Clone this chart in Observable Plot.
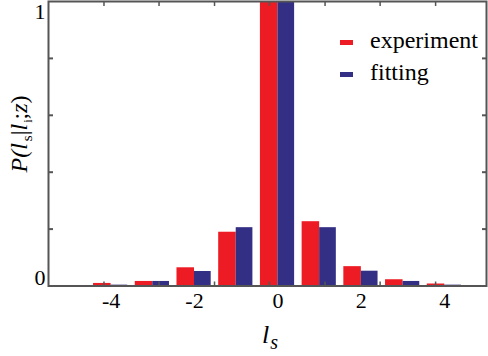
<!DOCTYPE html>
<html>
<head>
<meta charset="utf-8">
<script src="https://cdn.jsdelivr.net/npm/d3@7"></script>
<script src="https://cdn.jsdelivr.net/npm/@observablehq/plot@0.6"></script>
<style>
  html, body { margin: 0; padding: 0; background: #fff; }
  svg { display: block; }
  svg text { font-family: "Liberation Serif", "Times New Roman", Times, serif !important; }
</style>
</head>
<body>
<div id="chart"></div>
<script>
// Data
const ls = [-4, -3, -2, -1, 0, 1, 2, 3, 4];
const experiment = [0.009, 0.016, 0.064, 0.189, 1.0, 0.226, 0.068, 0.022, 0.007];
const fitting = [0.003, 0.016, 0.051, 0.205, 1.0, 0.205, 0.052, 0.016, 0.003];
const xTickLabels = [-4, -2, 0, 2, 4];
const yTickLabels = [0, 1];
const yMinorTicks = [0.2, 0.4, 0.6, 0.8];
const xMinorTicks = [-4.17, -2.85, -1.52, -0.2, 1.13, 2.45, 3.78];
const seriesNames = ["experiment", "fitting"];
const seriesColors = ["#ed1c24", "#322f84"];

const data = ls.map((l, i) => ({l, experiment: experiment[i], fitting: fitting[i]}));

const serif = '"Liberation Serif", "Times New Roman", Times, serif';
const axisColor = "#555";

const chart = Plot.plot({
  width: 488,
  height: 356,
  marginLeft: 48,
  marginRight: 2,
  marginTop: 1,
  marginBottom: 70.5,
  style: {fontFamily: serif, background: "#fff", color: "#000"},
  x: {domain: [-5.5, 5], label: null},
  y: {domain: [0, 1], label: null},
  marks: [
    Plot.rectY(data, {x1: d => d.l - 0.42, x2: d => d.l, y: "experiment", fill: seriesColors[0]}),
    Plot.rectY(data, {x1: d => d.l, x2: d => d.l + 0.4, y: "fitting", fill: seriesColors[1]}),
    // minor ticks (inward)
    Plot.axisY({ticks: yMinorTicks, anchor: "left", tickSize: 5, dx: 5, tickFormat: () => "", stroke: axisColor, strokeWidth: 2, label: null}),
    Plot.axisY({ticks: yMinorTicks, anchor: "right", tickSize: 5, dx: -5, tickFormat: () => "", stroke: axisColor, strokeWidth: 2, label: null}),
    Plot.axisX({ticks: xMinorTicks, anchor: "bottom", tickSize: 4, dy: -4, tickFormat: () => "", stroke: axisColor, strokeWidth: 1.5, label: null}),
    Plot.axisX({ticks: xMinorTicks, anchor: "top", tickSize: 4, dy: 4, tickFormat: () => "", stroke: axisColor, strokeWidth: 1.5, label: null}),
    // tick labels
    Plot.axisX({ticks: xTickLabels, anchor: "bottom", tickSize: 0, tickPadding: 6, fontSize: 22, tickFormat: d => (d < 0 ? "-" + Math.abs(d) : String(d)), label: null, fill: "#000"}),
    Plot.axisY({ticks: [yTickLabels[0]], anchor: "left", tickSize: 0, tickPadding: 3, dy: -8, fontSize: 22, tickFormat: d => String(d), label: null, fill: "#000"}),
    Plot.axisY({ticks: [yTickLabels[1]], anchor: "left", tickSize: 0, tickPadding: 3, dy: 10, fontSize: 22, tickFormat: d => String(d), label: null, fill: "#000"}),
    Plot.frame({stroke: axisColor, strokeWidth: 2})
  ]
});

const svg = d3.select(chart);

// Y-axis label: P(l_s | l_i ; z)
const yl = svg.append("text")
  .attr("transform", "translate(27,134) rotate(-90)")
  .attr("text-anchor", "middle")
  .attr("font-family", serif)
  .attr("font-size", 24)
  .attr("font-style", "italic")
  .attr("fill", "#000");
yl.append("tspan").text("P(l");
yl.append("tspan").attr("font-size", 15).attr("font-style", "normal").attr("dy", 5).attr("dx", 2).text("s");
yl.append("tspan").attr("dy", -5).attr("font-style", "normal").text("|");
yl.append("tspan").text("l");
yl.append("tspan").attr("font-size", 12).attr("font-style", "normal").attr("dy", 5).attr("dx", 1).text("i");
yl.append("tspan").attr("dy", -5).attr("font-style", "normal").text(";");
yl.append("tspan").text("z");
yl.append("tspan").attr("font-style", "normal").text(")");

// X-axis label: l_s
const xl = svg.append("text")
  .attr("x", 270)
  .attr("y", 343)
  .attr("text-anchor", "middle")
  .attr("font-family", serif)
  .attr("font-size", 26)
  .attr("font-style", "italic")
  .attr("fill", "#000");
xl.append("tspan").text("l");
xl.append("tspan").attr("font-size", 20).attr("dy", 6).attr("dx", 1).text("s");

// Legend
const leg = svg.append("g").attr("font-family", serif).attr("font-size", 24).attr("text-anchor", "start");
seriesNames.forEach((name, i) => {
  const y = 42.5 + i * 32;
  leg.append("rect").attr("x", 340).attr("y", y - 2.5).attr("width", 13).attr("height", 5).attr("fill", seriesColors[i]);
  leg.append("text").attr("x", 370).attr("y", y + 5).attr("text-anchor", "start").attr("fill", "#000").text(name);
});

document.getElementById("chart").appendChild(chart);
</script>
</body>
</html>
